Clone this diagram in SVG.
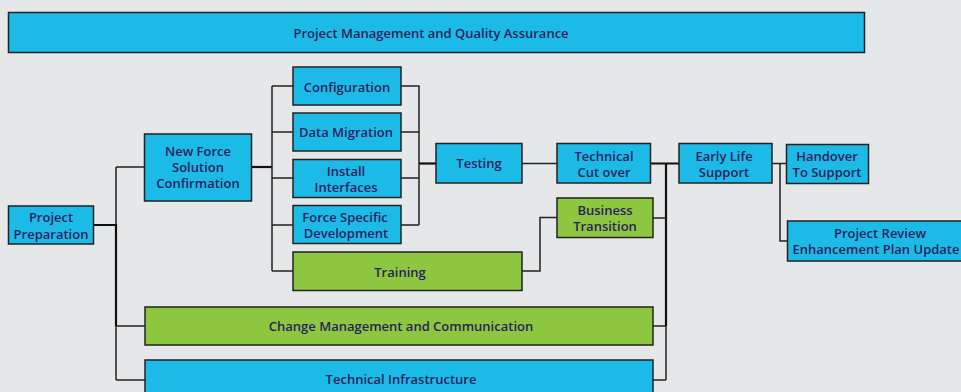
<svg xmlns="http://www.w3.org/2000/svg" width="961" height="392" viewBox="0 0 961 392">
<style>
.b{fill:#1cbae7;stroke:#222;stroke-width:1.5}
.g{fill:#8dc63f;stroke:#222;stroke-width:1.5}
text{font-family:"Open Sans","Noto Sans",sans-serif;font-size:13px;font-weight:600;fill:#2b1f5c;text-anchor:middle;dominant-baseline:central}
.c{fill:none;stroke:#222;stroke-width:1.5}
.t{fill:none;stroke:#111;stroke-width:2.2}
</style>
<rect width="961" height="392" fill="#e6e7e9"/>
<g id="connectors">
<path class="c" d="M116 167V380M116 167H145M116 326H145M116 380H145"/>
<path class="t" d="M94 225H116V326"/>
<path class="t" d="M251 167H272"/>
<path class="c" d="M272 86V271M272 86H293M272 132H293M272 178H293M272 225H293M272 271H293"/>
<path class="c" d="M401 86H419V225M401 132H419M401 178H419M401 225H419"/>
<path class="t" d="M419 163.5H436"/>
<path class="c" d="M522 163.5H557"/>
<path class="c" d="M522 271H540V217.5H557"/>
<path class="t" d="M651 163.5H679M666 163.5V326"/>
<path class="c" d="M666 326V380M653 218H666M653 326H666M653 380H666"/>
<path class="c" d="M772 163.5H787M780 163.5V241H787"/>
</g>
<g id="pmqa"><rect class="b" x="8.5" y="12.5" width="856" height="40"/><text x="431" y="33">Project Management and Quality Assurance</text></g>
<g id="prep"><rect class="b" x="8.5" y="206" width="85" height="38"/><text x="51" y="217">Project</text><text x="51" y="234">Preparation</text></g>
<g id="nfsc"><rect class="b" x="144.5" y="134" width="107" height="67"/><text x="198" y="150.5">New Force</text><text x="198" y="166.5">Solution</text><text x="198" y="182.5">Confirmation</text></g>
<g id="config"><rect class="b" x="293" y="67" width="108" height="38"/><text x="347" y="87">Configuration</text></g>
<g id="datamig"><rect class="b" x="293" y="113" width="108" height="38"/><text x="346" y="131.5">Data Migration</text></g>
<g id="install"><rect class="b" x="293" y="159.5" width="108" height="38"/><text x="346" y="170.5">Install</text><text x="346" y="187">Interfaces</text></g>
<g id="fsd"><rect class="b" x="293" y="205.5" width="108" height="38"/><text x="345" y="217">Force Specific</text><text x="346" y="233">Development</text></g>
<g id="training"><rect class="g" x="293" y="252" width="229" height="38.5"/><text x="400" y="272">Training</text></g>
<g id="testing"><rect class="b" x="436" y="143.5" width="86" height="39.5"/><text x="479" y="162.5">Testing</text></g>
<g id="tco"><rect class="b" x="557" y="143.5" width="93.5" height="39.5"/><text x="604" y="156">Technical</text><text x="604" y="172">Cut over</text></g>
<g id="bt"><rect class="g" x="557" y="198" width="96" height="39.5"/><text x="605" y="209.5">Business</text><text x="605" y="225.5">Transition</text></g>
<g id="els"><rect class="b" x="679" y="143.5" width="93" height="39.5"/><text x="724" y="156">Early Life</text><text x="724" y="172">Support</text></g>
<g id="hts"><rect class="b" x="786.5" y="144.5" width="82" height="39"/><text x="827" y="156">Handover</text><text x="827" y="172">To Support</text></g>
<g id="prepu"><rect class="b" x="787.5" y="221" width="190" height="40"/><text x="880" y="233">Project Review</text><text x="876" y="249">Enhancement Plan Update</text></g>
<g id="cmc"><rect class="g" x="145" y="307" width="508" height="38"/><text x="401" y="325.5">Change Management and Communication</text></g>
<g id="ti"><rect class="b" x="145" y="360" width="508" height="40"/><text x="401" y="379">Technical Infrastructure</text></g>
</svg>
